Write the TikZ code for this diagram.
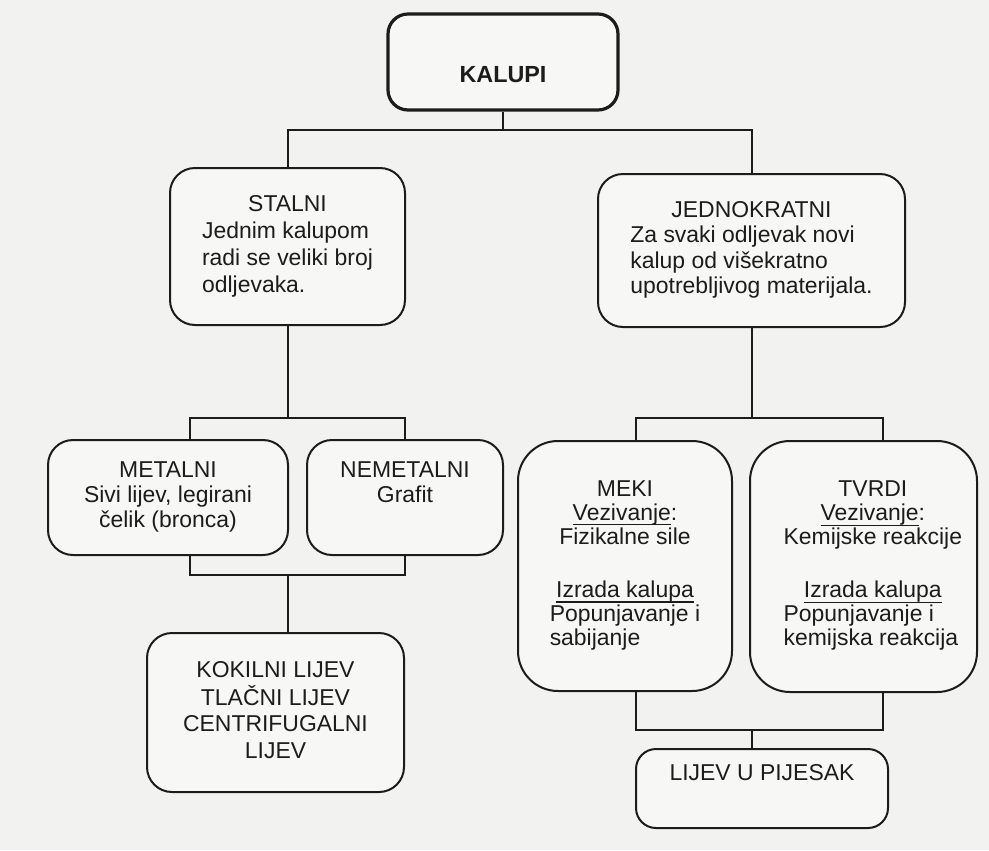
\documentclass[tikz,border=0pt]{standalone}
\usepackage{fontspec}
\setmainfont{Liberation Sans}
\definecolor{bg}{RGB}{242,242,240}
\definecolor{boxfill}{RGB}{247,247,246}
\definecolor{ink}{RGB}{28,28,28}
\newcommand{\ulx}[1]{\setbox0\hbox{#1}\rlap{\rule[-4pt]{\wd0}{1pt}}\box0}
\begin{document}
\begin{tikzpicture}[x=0.75pt,y=-0.75pt,
  box/.style={draw=ink, line width=1.5pt, rounded corners=18.75pt, fill=boxfill,
    inner sep=0pt, text=ink, font=\fontsize{17.2}{19.5}\selectfont},
  link/.style={draw=ink, line width=1.5pt}]
\useasboundingbox (0,0) rectangle (989,850);
\fill[bg] (0,0) rectangle (989,850);

% boxes
\node[box, minimum width=172.5pt, minimum height=72pt, line width=2.4pt, rounded corners=15pt,
  font=\fontsize{17.5}{20}\selectfont\bfseries] (kalupi) at (503,62)
  {\raisebox{-15pt}[0pt][0pt]{KALUPI}};

\node[box, minimum width=176.25pt, minimum height=117.75pt,
  font=\fontsize{17.2}{20.25}\selectfont] (stalni) at (287.5,246.5)
  {\begin{tabular}{@{}l@{}}\multicolumn{1}{@{}c@{}}{STALNI}\\Jednim kalupom\\radi se veliki broj\\odljevaka.\end{tabular}};

\node[box, minimum width=230.25pt, minimum height=114.75pt,
  font=\fontsize{17.2}{18.8}\selectfont] (jedno) at (751.5,250.5)
  {\begin{tabular}{@{}l@{}}\multicolumn{1}{@{}c@{}}{JEDNOKRATNI}\\Za svaki odljevak novi\\kalup od višekratno\\upotrebljivog materijala.\end{tabular}};

\node[box, minimum width=180pt, minimum height=86.25pt,
  font=\fontsize{17.2}{18.8}\selectfont] (metal) at (168,497.5)
  {\begin{tabular}{@{}c@{}}METALNI\\Sivi lijev, legirani\\čelik (bronca)\end{tabular}};

\node[box, minimum width=147pt, minimum height=86.25pt,
  font=\fontsize{17.2}{18.8}\selectfont] (nemetal) at (405,497.5)
  {\begin{tabular}{@{}c@{}}NEMETALNI\\Grafit\\\mbox{}\end{tabular}};

\node[box, minimum width=192.75pt, minimum height=119.25pt,
  font=\fontsize{17.2}{20}\selectfont] (kokil) at (275.5,712.5)
  {\begin{tabular}{@{}c@{}}KOKILNI LIJEV\\TLAČNI LIJEV\\CENTRIFUGALNI\\LIJEV\end{tabular}};

\node[box, minimum width=160.5pt, minimum height=187.5pt, rounded corners=30pt,
  font=\fontsize{17.2}{18}\selectfont] (meki) at (625,566)
  {\begin{tabular}{@{}c@{}}MEKI\\\ulx{Vezivanje}:\\Fizikalne sile\\[22pt]\ulx{Izrada kalupa}\\Popunjavanje i\\\multicolumn{1}{@{}l@{}}{sabijanje}\end{tabular}};

\node[box, minimum width=170.25pt, minimum height=188.25pt, rounded corners=30pt,
  font=\fontsize{17.2}{18}\selectfont] (tvrdi) at (863.5,566.5)
  {\begin{tabular}{@{\hspace{14pt}}c@{}}TVRDI\\\ulx{Vezivanje}:\\Kemijske reakcije\\[22pt]\ulx{Izrada kalupa}\\\multicolumn{1}{@{\hspace{14pt}}l@{}}{Popunjavanje i}\\\multicolumn{1}{@{\hspace{14pt}}l@{}}{kemijska reakcija}\end{tabular}};

\node[box, minimum width=189pt, minimum height=59.25pt, rounded corners=15pt] (lijev) at (762,788.5)
  {\begin{tabular}{@{}c@{}}LIJEV U PIJESAK\\\mbox{}\end{tabular}};

% bus coordinates
\coordinate (b1) at (0,130);
\coordinate (b2) at (0,418);
\coordinate (b3) at (0,575);
\coordinate (b4) at (0,730);
\coordinate (mx) at (190,0);
\coordinate (mk) at (636,0);
\coordinate (tv) at (883,0);

% connectors
\draw[link] (kalupi.south) -- (kalupi.south |- b1);
\draw[link] (stalni.north) -- (stalni.north |- b1) -- (jedno.north |- b1) -- (jedno.north);

\draw[link] (stalni.south) -- (stalni.south |- b2);
\draw[link] (mx |- metal.north) -- (mx |- b2) -- (nemetal.north |- b2) -- (nemetal.north);
\draw[link] (mx |- metal.south) -- (mx |- b3) -- (nemetal.south |- b3) -- (nemetal.south);
\draw[link] (stalni.south |- b3) -- (stalni.south |- kokil.north);

\draw[link] (jedno.south) -- (jedno.south |- b2);
\draw[link] (mk |- meki.north) -- (mk |- b2) -- (tv |- b2) -- (tv |- tvrdi.north);
\draw[link] (mk |- meki.south) -- (mk |- b4) -- (tv |- b4) -- (tv |- tvrdi.south);
\draw[link] (jedno.south |- b4) -- (jedno.south |- lijev.north);
\end{tikzpicture}
\end{document}
